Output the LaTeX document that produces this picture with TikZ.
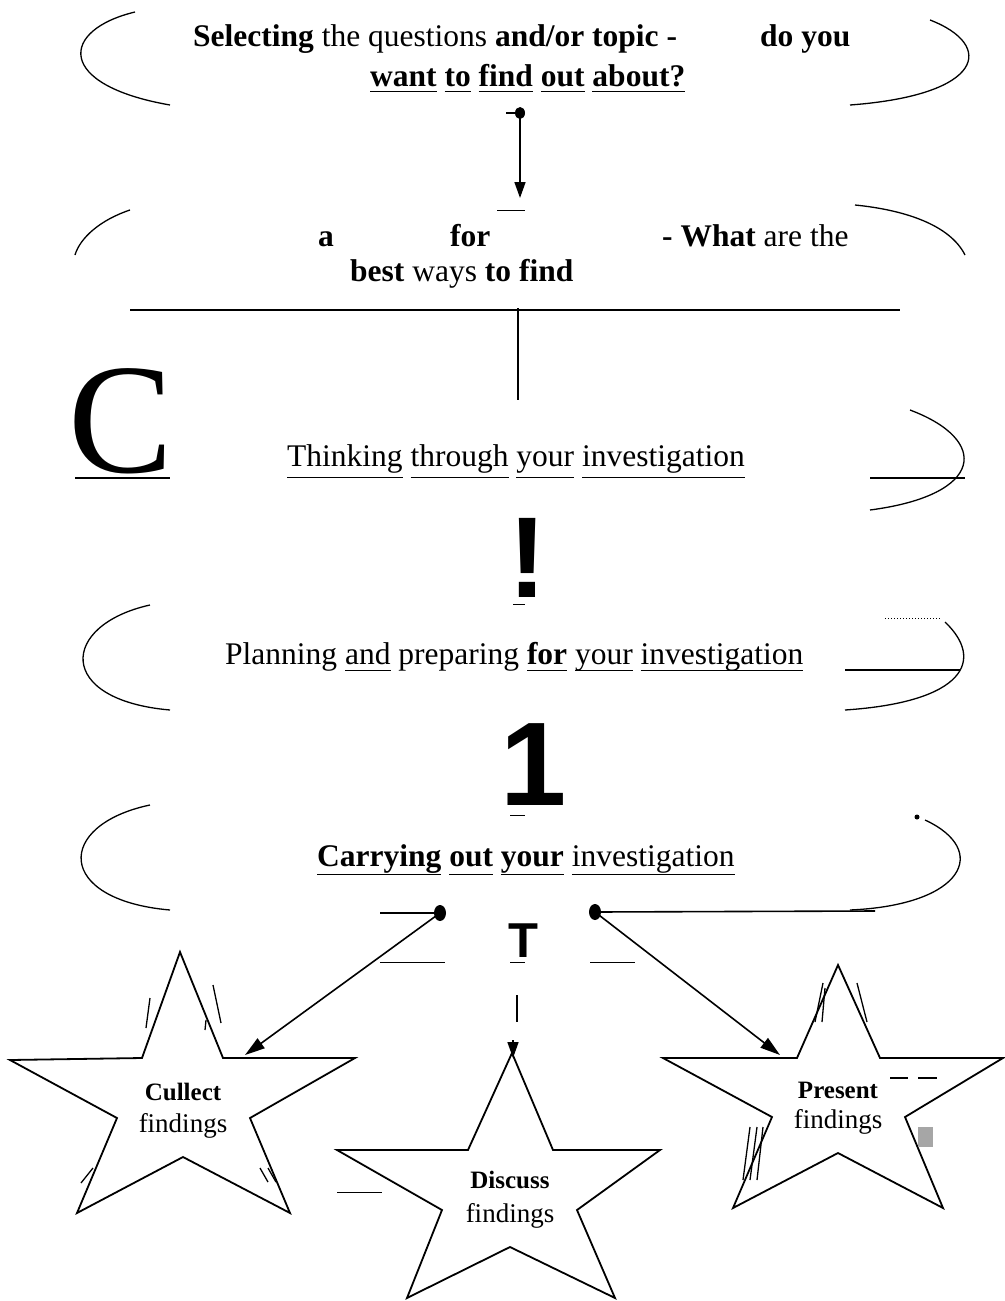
\documentclass[tikz,border=0pt]{standalone}
\usepackage{fontspec}
\setmainfont{Liberation Serif}
\newfontfamily\headsans{Liberation Sans}
\usetikzlibrary{arrows.meta}
% underline a word with a chosen depth below the baseline
\newcommand{\uw}[2][11pt]{\leavevmode\setbox0\hbox{#2}\rlap{\rule[-#1]{\wd0}{1.2pt}}\box0{}}
\begin{document}
\begin{tikzpicture}[x=1pt,y=-1pt,
  bracket/.style={line width=1.3pt},
  link/.style={line width=1.6pt},
  tip/.style={-{Triangle[length=16pt,width=11pt]}},
  bigtip/.style={-{Triangle[length=20pt,width=12pt]}},
  starline/.style={line width=1.8pt, line join=miter},
  stroke/.style={line width=1.3pt},
  lbl/.style={anchor=base west, inner sep=0pt, font=\fontsize{31.5}{36}\selectfont},
  starlbl/.style={anchor=base, inner sep=0pt},
  boldstar/.style={starlbl, font=\bfseries\fontsize{25}{30}\selectfont},
  plainstar/.style={starlbl, font=\fontsize{27}{30}\selectfont}
]
\useasboundingbox (0,0) rectangle (1004,1301);

% ---------- stage 1: selecting the question ----------
\draw[bracket] (135,12) .. controls (60,30) and (55,85) .. (170,105);
\draw[bracket] (930,20) .. controls (995,45) and (985,95) .. (850,105);
\node[lbl] (q1) at (193,46) {\bfseries Selecting \mdseries the questions \bfseries and/or topic -};
\node[lbl] (q1b) at (760,46) {\bfseries do you};
\node[lbl] (q2) at (370,86) {\bfseries \uw[6pt]{want} \uw[6pt]{to} \uw[6pt]{find} \uw[6pt]{out} \uw[6pt]{about?}};

\coordinate (a1h) at (506,113);
\coordinate (a1) at (520,113);
\coordinate (a1e) at (520,198);
\draw[link] (a1h) -- (a1);
\draw[link, tip] (a1) -- (a1e);
\fill (a1) ellipse (5 and 6);
\coordinate (u1a) at (497,210); \coordinate (u1b) at (525,210);
\draw[line width=1pt] (u1a) -- (u1b);

% ---------- stage 2: choosing a method ----------
\draw[bracket] (130,210) .. controls (100,220) and (80,238) .. (75,255);
\draw[bracket] (855,205) .. controls (905,210) and (950,225) .. (965,255);
\node[lbl] (m1) at (318,246) {\bfseries a};
\node[lbl] (m2) at (450,246) {\bfseries for};
\node[lbl] (m3) at (662,246) {\bfseries - What \mdseries are the};
\node[lbl] (m4) at (350,281) {\bfseries best \mdseries ways \bfseries to find};

\coordinate (bl) at (130,310); \coordinate (br) at (900,310);
\draw[line width=1.4pt] (bl) -- (br);
\coordinate (v2a) at (518,308); \coordinate (v2b) at (518,400);
\draw[line width=2pt] (v2a) -- (v2b);

% ---------- stage 3: thinking it through ----------
\node[lbl] (bigc) at (68,472) {\fontsize{157}{160}\selectfont C};
\coordinate (uc1) at (75,478); \coordinate (uc2) at (170,478);
\draw[line width=1.2pt] (uc1) -- (uc2);
\node[lbl] (think) at (287,466) {\uw[12pt]{Thinking} \uw[12pt]{through} \uw[12pt]{your} \uw[12pt]{investigation}};
\draw[bracket] (910,410) .. controls (990,440) and (985,495) .. (870,510);
\coordinate (ur1) at (870,478); \coordinate (ur2) at (965,478);
\draw[line width=1.2pt] (ur1) -- (ur2);

\node[anchor=base, inner sep=0pt, font=\headsans\bfseries\fontsize{115}{120}\selectfont] (bang) at (528,597) {!};
\coordinate (ub1) at (513,604); \coordinate (ub2) at (525,604);
\draw[line width=1pt] (ub1) -- (ub2);

% ---------- stage 4: planning ----------
\draw[bracket] (150,605) .. controls (60,625) and (55,700) .. (170,710);
\draw[line width=1pt, dotted] (885,618) -- (940,618);
\draw[bracket] (945,622) .. controls (985,660) and (965,702) .. (845,710);
\node[lbl] (plan) at (225,664) {Planning \uw[7pt]{and} preparing \uw[7pt]{\bfseries for} \uw[7pt]{your} \uw[7pt]{investigation}};
\coordinate (up1) at (845,670); \coordinate (up2) at (960,670);
\draw[line width=1.2pt] (up1) -- (up2);

\node[anchor=base, inner sep=0pt, font=\headsans\bfseries\fontsize{119}{120}\selectfont] (one) at (534,805) {1};
\coordinate (uo1) at (510,815); \coordinate (uo2) at (525,815);
\draw[line width=1pt] (uo1) -- (uo2);

% ---------- stage 5: carrying out ----------
\draw[bracket] (150,805) .. controls (55,825) and (55,900) .. (170,910);
\fill (917,817) circle (2.5);
\draw[bracket] (925,820) .. controls (990,850) and (965,905) .. (850,910);
\node[lbl] (carry) at (317,866) {\bfseries \uw[9pt]{Carrying} \uw[9pt]{out} \uw[9pt]{your} \mdseries\uw[9pt]{investigation}};

\coordinate (dl0) at (380,913); \coordinate (dl) at (440,913);
\coordinate (dr) at (595,912); \coordinate (dr0) at (875,911);
\draw[link] (dl0) -- (dl);
\draw[link] (dr) -- (dr0);
\fill (dl) ellipse (6 and 8);
\fill (dr) ellipse (6 and 8);

\node[anchor=base, inner sep=0pt, font=\headsans\bfseries\fontsize{49}{50}\selectfont] (tee) at (523,957) {T};
\coordinate (ut1) at (380,962); \coordinate (ut2) at (445,962);
\coordinate (ut3) at (510,962); \coordinate (ut4) at (525,962);
\coordinate (ut5) at (590,962); \coordinate (ut6) at (635,962);
\draw[line width=1pt] (ut1) -- (ut2) (ut3) -- (ut4) (ut5) -- (ut6);

% ---------- the three outcomes ----------
\coordinate (s1t) at (245,1055);
\coordinate (s3t) at (780,1055);
\draw[link, bigtip] (dl) -- (s1t);
\draw[link, bigtip] (dr) -- (s3t);
\coordinate (vd1) at (517,995); \coordinate (vd2) at (517,1022);
\draw[line width=2pt] (vd1) -- (vd2);
\coordinate (vd3) at (513,1040); \coordinate (vd4) at (513,1058);
\draw[link, tip] (vd3) -- (vd4);

% collect
\draw[starline] (180,952) -- (223,1058) -- (355,1058) -- (250,1118) -- (290,1213)
  -- (183,1157) -- (77,1213) -- (117,1118) -- (10,1060) -- (142,1058) -- cycle;
\node[boldstar] (collect) at (183,1100) {Cullect};
\node[plainstar] (collectf) at (183,1132) {findings};
\draw[stroke] (150,998) -- (146,1028) (213,985) -- (221,1023) (206,1020) -- (205,1030);
\draw[stroke] (93,1168) -- (81,1183) (260,1168) -- (268,1182) (268,1168) -- (276,1182);

% discuss
\draw[starline] (512,1053) -- (553,1150) -- (660,1150) -- (577,1210) -- (615,1298)
  -- (510,1247) -- (407,1298) -- (442,1210) -- (337,1150) -- (468,1150) -- cycle;
\node[boldstar] (discuss) at (510,1188) {Discuss};
\node[plainstar] (discussf) at (510,1222) {findings};
\coordinate (ud1) at (337,1192); \coordinate (ud2) at (382,1192);
\draw[line width=1pt] (ud1) -- (ud2);

% present
\draw[starline] (838,965) -- (880,1058) -- (1003,1058) -- (905,1117) -- (943,1208)
  -- (838,1153) -- (733,1208) -- (772,1117) -- (663,1058) -- (797,1058) -- cycle;
\node[boldstar] (present) at (838,1098) {Present};
\node[plainstar] (presentf) at (838,1128) {findings};
\draw[stroke] (823,983) -- (815,1022) (825,988) -- (822,1022) (857,983) -- (867,1022);
\draw[stroke] (750,1127) -- (743,1180) (757,1127) -- (750,1180) (763,1127) -- (757,1180);
\coordinate (pd1) at (890,1078); \coordinate (pd2) at (908,1078);
\coordinate (pd3) at (918,1078); \coordinate (pd4) at (937,1078);
\draw[line width=2.5pt] (pd1) -- (pd2) (pd3) -- (pd4);
\fill[gray!70] (918,1127) rectangle (933,1147);
\end{tikzpicture}
\end{document}
